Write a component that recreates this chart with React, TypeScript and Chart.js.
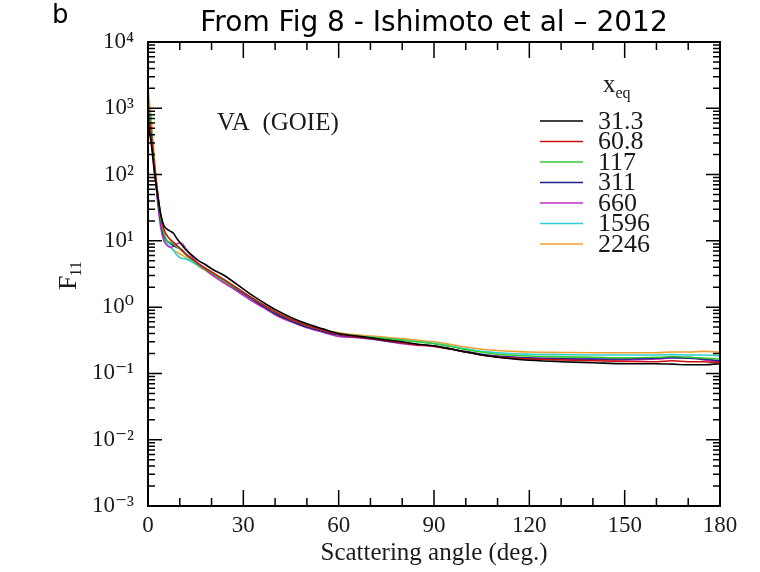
import React, { useEffect, useRef } from 'react';
import { Chart, registerables } from 'chart.js';

Chart.register(...registerables);

const TITLE = 'From Fig 8 - Ishimoto et al \u2013 2012';
const X_TITLE = 'Scattering angle (deg.)';
const PANEL_TAG = 'b';
const ANNOTATION = 'VA  (GOIE)';

const ANGLES = [0, 1, 2, 3, 4, 5, 6, 7, 8, 9, 10, 11, 12, 14, 16, 18, 20, 24, 28, 32, 36, 40, 45, 50, 55, 60, 65, 70, 75, 80, 85, 90, 95, 100, 105, 110, 115, 120, 130, 140, 150, 160, 165, 170, 175, 180];

const SERIES_LABELS = ['31.3', '60.8', '117', '311', '660', '1596', '2246'];
const SERIES_COLORS = ['#000000', '#cc1010', '#33cc33', '#20208c', '#c030c0', '#30d0d0', '#f0a030'];

const F11_31_3 = [600, 300, 110, 50, 25, 17, 15, 14, 13, 11, 9.5, 8.3, 7.3, 6.0, 5.0, 4.4, 3.8, 3.0, 2.2, 1.6, 1.2, 0.92, 0.7, 0.56, 0.47, 0.40, 0.37, 0.345, 0.32, 0.30, 0.275, 0.26, 0.235, 0.21, 0.19, 0.175, 0.165, 0.158, 0.15, 0.145, 0.14, 0.14, 0.138, 0.135, 0.135, 0.14];
const F11_60_8 = [900, 420, 140, 55, 25, 15, 12, 10.5, 9.5, 8.6, 7.8, 7.0, 6.3, 5.3, 4.5, 3.9, 3.4, 2.6, 1.95, 1.45, 1.1, 0.85, 0.65, 0.53, 0.45, 0.39, 0.36, 0.34, 0.315, 0.29, 0.27, 0.255, 0.235, 0.21, 0.19, 0.178, 0.17, 0.165, 0.16, 0.155, 0.152, 0.15, 0.155, 0.15, 0.15, 0.145];
const F11_117 = [1200, 500, 150, 50, 22, 13, 10, 9.5, 9.0, 8.2, 7.5, 6.8, 6.1, 5.1, 4.4, 3.8, 3.3, 2.5, 1.9, 1.45, 1.1, 0.84, 0.65, 0.53, 0.45, 0.4, 0.37, 0.35, 0.335, 0.32, 0.3, 0.28, 0.255, 0.23, 0.21, 0.195, 0.188, 0.183, 0.178, 0.175, 0.172, 0.175, 0.18, 0.175, 0.17, 0.165];
const F11_311 = [800, 380, 120, 45, 20, 12, 10, 9.2, 8.5, 8.0, 7.6, 7.0, 6.2, 5.2, 4.4, 3.8, 3.3, 2.5, 1.85, 1.4, 1.05, 0.8, 0.62, 0.5, 0.43, 0.38, 0.355, 0.335, 0.31, 0.29, 0.27, 0.26, 0.235, 0.215, 0.195, 0.183, 0.177, 0.172, 0.168, 0.165, 0.165, 0.17, 0.172, 0.17, 0.165, 0.155];
const F11_660 = [1000, 450, 130, 40, 16, 10, 8.5, 8.0, 8.3, 9.0, 9.3, 8.8, 7.5, 5.6, 4.4, 3.7, 3.1, 2.3, 1.75, 1.3, 1.0, 0.77, 0.6, 0.49, 0.42, 0.36, 0.35, 0.33, 0.305, 0.28, 0.265, 0.26, 0.235, 0.21, 0.19, 0.178, 0.172, 0.168, 0.165, 0.163, 0.16, 0.165, 0.172, 0.175, 0.16, 0.15];
const F11_1596 = [1300, 520, 140, 45, 18, 11, 9, 8.2, 7.2, 6.2, 5.6, 5.4, 5.3, 4.8, 4.2, 3.7, 3.2, 2.5, 1.9, 1.4, 1.05, 0.82, 0.63, 0.52, 0.44, 0.39, 0.37, 0.35, 0.335, 0.32, 0.3, 0.285, 0.26, 0.235, 0.215, 0.205, 0.198, 0.195, 0.192, 0.19, 0.19, 0.19, 0.192, 0.19, 0.19, 0.185];
const F11_2246 = [2000, 700, 180, 55, 22, 12, 9, 8.0, 7.3, 6.8, 6.4, 6.0, 5.6, 4.8, 4.1, 3.6, 3.1, 2.4, 1.85, 1.4, 1.05, 0.82, 0.64, 0.53, 0.46, 0.41, 0.385, 0.365, 0.35, 0.335, 0.315, 0.3, 0.275, 0.25, 0.232, 0.222, 0.215, 0.21, 0.207, 0.205, 0.205, 0.205, 0.21, 0.21, 0.215, 0.21];

const SERIES_VALUES = [F11_31_3, F11_60_8, F11_117, F11_311, F11_660, F11_1596, F11_2246];

const X_TICKS = [0, 30, 60, 90, 120, 150, 180];
const X_MINOR_STEP = 10;
const Y_DECADES = [-3, -2, -1, 0, 1, 2, 3, 4];

const SUP: Record<string, string> = { '-': '\u207B', '0': '\u2070', '1': '\u00B9', '2': '\u00B2', '3': '\u00B3', '4': '\u2074', '5': '\u2075' };
const toSup = (s: string) => s.split('').map((c) => SUP[c] || c).join('');

const SERIF = '"Liberation Serif", "DejaVu Serif", serif';
const TEXT_COLOR = '#1a1a1a';

const decorPlugin = {
  id: 'decor',
  afterDatasetsDraw(chart: any) {
    const ctx = chart.ctx as CanvasRenderingContext2D;
    const { left, right, top, bottom } = chart.chartArea;
    const xs = chart.scales.x;
    const ys = chart.scales.y;
    ctx.save();
    ctx.strokeStyle = '#000';
    ctx.lineWidth = 2;
    ctx.strokeRect(left, top, right - left, bottom - top);
    ctx.lineWidth = 1.5;
    for (let v = 0; v <= 180; v += X_MINOR_STEP) {
      const px = xs.getPixelForValue(v);
      const len = X_TICKS.includes(v) ? 16 : 8;
      ctx.beginPath();
      ctx.moveTo(px, bottom);
      ctx.lineTo(px, bottom - len);
      ctx.moveTo(px, top);
      ctx.lineTo(px, top + len);
      ctx.stroke();
    }
    for (const e of Y_DECADES) {
      const py = ys.getPixelForValue(Math.pow(10, e));
      ctx.beginPath();
      ctx.moveTo(left, py);
      ctx.lineTo(left + 14, py);
      ctx.moveTo(right, py);
      ctx.lineTo(right - 14, py);
      ctx.stroke();
      if (e < 4) {
        for (let m = 2; m <= 9; m++) {
          const pm = ys.getPixelForValue(m * Math.pow(10, e));
          ctx.beginPath();
          ctx.moveTo(left, pm);
          ctx.lineTo(left + 7, pm);
          ctx.moveTo(right, pm);
          ctx.lineTo(right - 7, pm);
          ctx.stroke();
        }
      }
    }
    ctx.restore();
  },
  afterDraw(chart: any) {
    const ctx = chart.ctx as CanvasRenderingContext2D;
    ctx.save();
    ctx.textAlign = 'left';
    ctx.textBaseline = 'alphabetic';
    ctx.font = '26px "DejaVu Sans", sans-serif';
    ctx.fillStyle = '#000';
    ctx.fillText(PANEL_TAG, 52, 23);
    ctx.fillStyle = TEXT_COLOR;
    ctx.font = '25px ' + SERIF;
    ctx.fillText(ANNOTATION, 217, 130);
    ctx.font = '25px ' + SERIF;
    ctx.fillText('x', 603, 92);
    const wx = ctx.measureText('x').width;
    ctx.font = '16px ' + SERIF;
    ctx.fillText('eq', 603 + wx, 98);
    ctx.textBaseline = 'middle';
    SERIES_LABELS.forEach((lab, i) => {
      const y = 121 + i * 20.5;
      ctx.strokeStyle = SERIES_COLORS[i];
      ctx.lineWidth = 1.6;
      ctx.beginPath();
      ctx.moveTo(540, y);
      ctx.lineTo(583, y);
      ctx.stroke();
      ctx.font = '26px ' + SERIF;
      ctx.fillStyle = TEXT_COLOR;
      ctx.fillText(lab, 598, y + 1);
    });
    ctx.translate(76, 290);
    ctx.rotate(-Math.PI / 2);
    ctx.textBaseline = 'alphabetic';
    ctx.font = '26px ' + SERIF;
    ctx.fillText('F', 0, 0);
    const wf = ctx.measureText('F').width;
    ctx.font = '16px ' + SERIF;
    ctx.fillText('11', wf - 1, 5);
    ctx.restore();
  },
};

export default function App() {
  const canvasRef = useRef<HTMLCanvasElement | null>(null);

  useEffect(() => {
    if (!canvasRef.current) return;
    const datasets = SERIES_LABELS.map((label, i) => ({
      label,
      data: ANGLES.map((a, j) => ({ x: a, y: SERIES_VALUES[i][j] })),
      borderColor: SERIES_COLORS[i],
      backgroundColor: SERIES_COLORS[i],
      borderWidth: 1.6,
      pointRadius: 0,
      fill: false,
      cubicInterpolationMode: 'monotone' as const,
    }));

    const chart = new Chart(canvasRef.current, {
      type: 'line',
      data: { datasets },
      options: {
        responsive: false,
        animation: false,
        layout: { padding: { left: 0, right: 40, top: 0, bottom: 0 } },
        plugins: {
          legend: { display: false },
          tooltip: { enabled: false },
          title: {
            display: true,
            text: TITLE,
            color: '#000',
            font: { family: '"DejaVu Sans", sans-serif', size: 28, weight: 'normal' },
            padding: { top: 7, bottom: 1.4 },
            fullSize: false,
          },
        },
        scales: {
          x: {
            type: 'linear',
            min: 0,
            max: 180,
            afterBuildTicks: (s: any) => {
              s.ticks = X_TICKS.map((v) => ({ value: v }));
            },
            afterFit: (s: any) => {
              s.height = 66;
            },
            ticks: {
              autoSkip: false,
              maxRotation: 0,
              padding: 6,
              color: TEXT_COLOR,
              font: { family: SERIF, size: 23 },
              callback: (v: any) => String(v),
            },
            grid: { display: false, drawTicks: false },
            border: { display: false },
            title: {
              display: true,
              text: X_TITLE,
              color: TEXT_COLOR,
              font: { family: SERIF, size: 25 },
              padding: { top: 0, bottom: 4 },
            },
          },
          y: {
            type: 'logarithmic',
            min: 1e-3,
            max: 1e4,
            afterBuildTicks: (s: any) => {
              s.ticks = Y_DECADES.map((e) => ({ value: Math.pow(10, e) }));
            },
            afterFit: (s: any) => {
              s.width = 148;
            },
            ticks: {
              autoSkip: false,
              padding: 14,
              color: TEXT_COLOR,
              font: { family: SERIF, size: 23 },
              callback: (v: any) => '10' + toSup(String(Math.round(Math.log10(Number(v))))),
            },
            grid: { display: false, drawTicks: false },
            border: { display: false },
          },
        },
      },
      plugins: [decorPlugin],
    });
    return () => chart.destroy();
  }, []);

  return (
    <div style={{ position: 'fixed', left: 0, top: 0, width: 760, height: 572, background: '#fff' }}>
      <canvas ref={canvasRef} width={760} height={572} style={{ display: 'block', width: 760, height: 572 }} />
    </div>
  );
}
